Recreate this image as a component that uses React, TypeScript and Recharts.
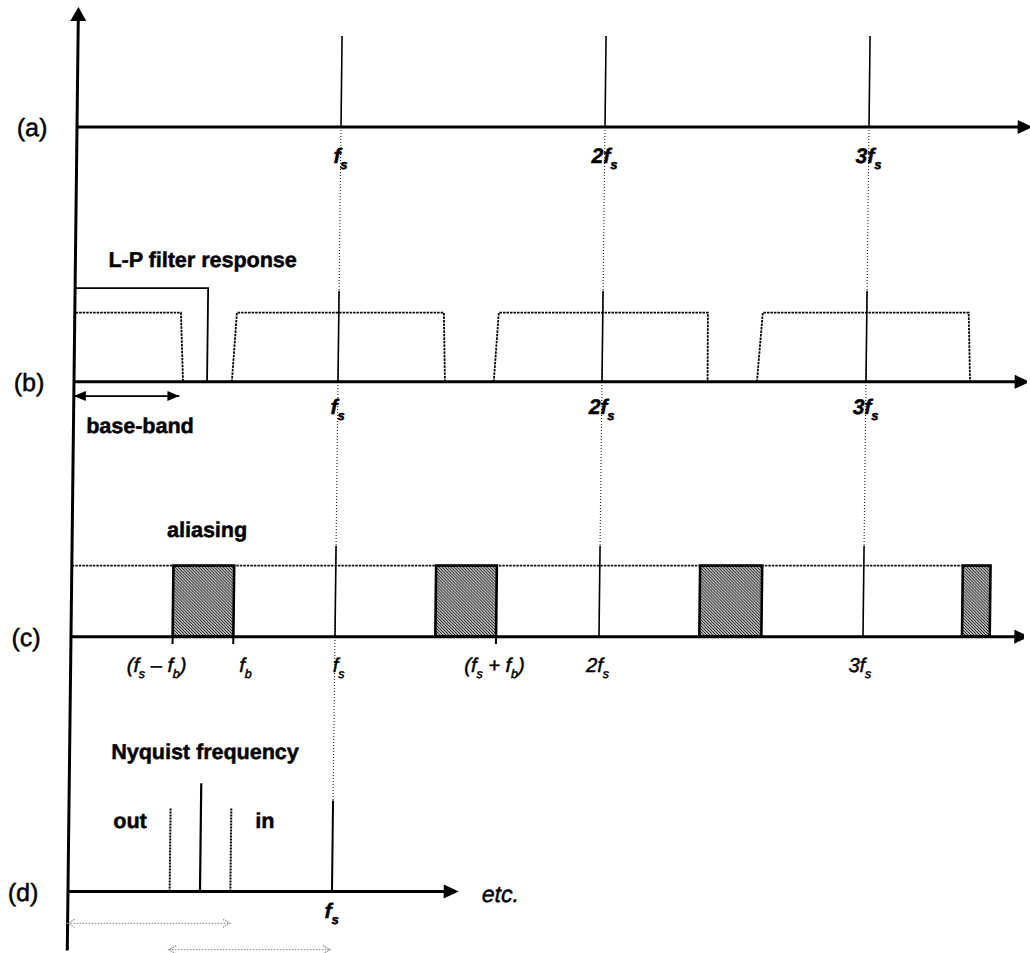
import { ComposedChart, Line, XAxis, YAxis, ReferenceArea, ReferenceDot } from "recharts"

const W = 1030
const H = 953
const FONT = "'Liberation Sans', Arial, Helvetica, sans-serif"

// x: frequency in multiples of fs, y: height in pulse units; panels stacked downwards
const xDomain: [number, number] = [-0.25, 3.6]
const yDomain: [number, number] = [-9.05, 1.32]

const panelNames = ["(a)", "(b)", "(c)", "(d)"]
const panelBase = [0, -2.8, -5.6, -8.4]
const panelArrowTip = [3.62, 3.62, 3.63, 1.48]
const panelLabelDrop = [-0.4, -0.35, -0.39, -0.29]

// sampling pulses at multiples of fs
const harmonics = [1, 2, 3]
const harmonicNames = ["f_s", "2f_s", "3f_s"]
const pulseHeight = 1

// (b) low-pass response and spectrum images: [foot left, top left, top right, foot right]
const filterCutoff = 0.504
const filterLevel = 1.03
const imageLevel = 0.76
const spectrumImages = [
  [0, 0, 0.402, 0.413],
  [0.598, 0.614, 1.398, 1.405],
  [1.59, 1.606, 2.398, 2.4],
  [2.587, 2.606, 3.386, 3.394],
]
const basebandArrow = [0, 0.4]
const basebandArrowLevel = -0.156

// (c) images overlapping when fs is too low
const aliasLevel = 0.78
const aliasEnd = 3.48
const aliasOverlaps = [
  [0.385, 0.615],
  [1.38, 1.61],
  [2.38, 2.615],
  [3.375, 3.48],
]
const aliasTicks = [0.385, 0.615, 1.61]
const aliasNames = ["(f_s – f_b)", "f_b", "f_s", "(f_s + f_b)", "2f_s", "3f_s"]
const aliasNameAt = [0.326, 0.663, 1.015, 1.606, 1.996, 2.99]

// (d) Nyquist frequency at fs/2
const nyquist = 0.5
const nyquistHeight = 1.19
const bandEdges = [0.385, 0.615]
const bandEdgeHeight = 0.92
const spans = [
  [0, 0.615],
  [0.385, 0.995],
]
const spanLevels = [-0.35, -0.64]

// captions, heights relative to their panel baseline
const notes = ["L-P filter response", "base-band", "aliasing", "Nyquist frequency", "out", "in"]
const noteX = [0.482, 0.252, 0.511, 0.513, 0.232, 0.743]
const noteY = [1.26, -0.56, 1.095, 1.455, 0.7, 0.7]
const notePanel = [1, 1, 2, 3, 3, 3]

const pts = (list: number[][]) => list.map(([f, v]) => ({ f, v }))

type Style = { stroke?: string; width?: number; dash?: string }

function trace(key: string, list: number[][], s: Style = {}) {
  return (
    <Line
      key={key}
      data={pts(list)}
      dataKey="v"
      type="linear"
      stroke={s.stroke ?? "#000"}
      strokeWidth={s.width ?? 1.6}
      strokeDasharray={s.dash}
      strokeLinecap="butt"
      dot={false}
      activeDot={false}
      legendType="none"
      isAnimationActive={false}
    />
  )
}

// heavy ink on all lettering
const ink = { fill: "#000", stroke: "#000", strokeWidth: 0.5, paintOrder: "stroke" as const }

function mathText(text: string, x: number, y: number, size: number, bold: boolean) {
  const parts = text.split(/_(.)/)
  const drop = size * 0.28
  return (
    <text
      x={x}
      y={y}
      textAnchor="middle"
      fontFamily={FONT}
      fontSize={size}
      fontStyle="italic"
      fontWeight={bold ? 700 : 400}
      {...ink}
      style={{ whiteSpace: "pre" }}
    >
      {parts.map((p, i) =>
        i % 2 === 1 ? (
          <tspan key={i} fontSize={size * 0.62} dy={drop}>
            {p}
          </tspan>
        ) : (
          <tspan key={i} dy={i === 0 ? 0 : -drop}>
            {p}
          </tspan>
        )
      )}
    </text>
  )
}

function marker(key: string, f: number, v: number, draw: (cx: number, cy: number) => JSX.Element) {
  return (
    <ReferenceDot
      key={key}
      x={f}
      y={v}
      r={0}
      ifOverflow="visible"
      isFront
      shape={(p: any) => draw(p.cx, p.cy)}
    />
  )
}

// filled arrow head with its tip at (cx, cy)
const head = (dir: "right" | "left" | "up", len: number, half: number, fill = "#000") => (cx: number, cy: number) => {
  const d =
    dir === "right"
      ? `${cx},${cy} ${cx - len},${cy - half} ${cx - len},${cy + half}`
      : dir === "left"
      ? `${cx},${cy} ${cx + len},${cy - half} ${cx + len},${cy + half}`
      : `${cx},${cy} ${cx - half},${cy + len} ${cx + half},${cy + len}`
  return <polygon points={d} fill={fill} />
}

// small open head for the dotted range arrows
const openHead = (dir: "right" | "left") => (cx: number, cy: number) => {
  const s = dir === "right" ? -1 : 1
  return (
    <polyline
      points={`${cx + s * 7},${cy - 4} ${cx},${cy} ${cx + s * 7},${cy + 4}`}
      fill="none"
      stroke="#999"
      strokeWidth={1.4}
      strokeDasharray="1.5 1"
    />
  )
}

export default function App() {
  const [a, b, c, d] = panelBase

  return (
    <div style={{ position: "absolute", left: 0, top: 0, width: W, height: H, background: "#fff" }}>
      <svg width={0} height={0} style={{ position: "absolute" }}>
        <defs>
          <pattern id="hatch" patternUnits="userSpaceOnUse" width={3} height={3}>
            <path d="M-1,-1 L4,4 M-1,2 L1,4 M2,-1 L4,1" stroke="#000" strokeWidth={1} />
          </pattern>
        </defs>
      </svg>
      {/* the drawing leans a little, lower panels sit slightly further left */}
      <div style={{ transform: "skewX(-0.676deg)", transformOrigin: "0px 127px" }}>
        <ComposedChart
          width={W}
          height={H}
          margin={{ top: 6.9, right: 2.6, bottom: 2.4, left: 11 }}
          style={{ overflow: "visible" }}
        >
          <XAxis type="number" dataKey="f" domain={xDomain} hide />
          <YAxis type="number" domain={yDomain} hide />

          {/* hatched overlap regions in (c) */}
          {aliasOverlaps.map(([x1, x2], i) => (
            <ReferenceArea
              key={`ov${i}`}
              x1={x1}
              x2={x2}
              y1={c}
              y2={c + aliasLevel}
              fill="url(#hatch)"
              fillOpacity={1}
              stroke="#000"
              strokeWidth={2.6}
              ifOverflow="visible"
            />
          ))}

          {/* dotted guides through the multiples of fs */}
          {trace("gfs", [[1, a], [1, d + pulseHeight]], { stroke: "#222", width: 1.1, dash: "1 2" })}
          {trace("g2fs", [[2, a], [2, c + pulseHeight]], { stroke: "#222", width: 1.1, dash: "1 2" })}
          {trace("g3fs", [[3, a], [3, c + pulseHeight]], { stroke: "#222", width: 1.1, dash: "1 2" })}

          {/* pulses in (a), (b), (c) */}
          {[a, b, c].flatMap((base, p) =>
            harmonics.map((h) => trace(`p${p}${h}`, [[h, base], [h, base + pulseHeight]], { width: 1.6 }))
          )}

          {/* (b) filter response and sampled spectra */}
          {trace("filter", [[0, b + filterLevel], [filterCutoff, b + filterLevel], [filterCutoff, b]], { width: 1.8 })}
          {spectrumImages.map(([f0, f1, f2, f3], i) =>
            trace(
              `img${i}`,
              [[f0, b], [f1, b + imageLevel], [f2, b + imageLevel], [f3, b]],
              { stroke: "#000", width: 1.8, dash: "2.5 1" }
            )
          )}
          {trace("bbArrow", [[basebandArrow[0], b + basebandArrowLevel], [basebandArrow[1], b + basebandArrowLevel]], { width: 1.8 })}

          {/* (c) top of overlapping images and ticks */}
          {trace("aliasTop", [[0, c + aliasLevel], [aliasEnd, c + aliasLevel]], { stroke: "#111", width: 1.7, dash: "2.5 1" })}
          {aliasTicks.map((t, i) => trace(`tk${i}`, [[t, c], [t, c - 0.08]], { width: 2 }))}

          {/* (d) Nyquist frequency, band edges and fs */}
          {trace("nyq", [[nyquist, d], [nyquist, d + nyquistHeight]], { width: 2.2 })}
          {bandEdges.map((e, i) => trace(`edge${i}`, [[e, d], [e, d + bandEdgeHeight]], { stroke: "#000", width: 2, dash: "2 1" }))}
          {trace("dfs", [[1, d], [1, d + pulseHeight]], { width: 2 })}
          {spans.map(([s0, s1], i) =>
            trace(`span${i}`, [[s0, d + spanLevels[i]], [s1, d + spanLevels[i]]], { stroke: "#999", width: 1.3, dash: "1.5 1.5" })
          )}

          {/* axes */}
          {trace("yAxis", [[0, yDomain[0]], [0, 1.2]], { width: 3 })}
          {panelBase.map((base, i) => trace(`ax${i}`, [[0, base], [panelArrowTip[i] - 0.04, base]], { width: 3 }))}

          {marker("yHead", 0, 1.32, head("up", 14, 8))}
          {panelBase.map((base, i) => marker(`axHead${i}`, panelArrowTip[i], base, head("right", 15, 7)))}
          {marker("bbL", basebandArrow[0], b + basebandArrowLevel, head("left", 12, 5))}
          {marker("bbR", basebandArrow[1], b + basebandArrowLevel, head("right", 12, 5))}
          {spans.map(([s0, s1], i) => [
            marker(`spL${i}`, s0, d + spanLevels[i], openHead("left")),
            marker(`spR${i}`, s1, d + spanLevels[i], openHead("right")),
          ])}

          {/* panel letters */}
          {panelNames.map((n, i) =>
            marker(`pn${i}`, -0.17, panelBase[i] - 0.1, (cx, cy) => (
              <text x={cx} y={cy} textAnchor="middle" fontFamily={FONT} fontSize={25} {...ink}>
                {n}
              </text>
            ))
          )}

          {/* frequency labels */}
          {[a, b].flatMap((base, p) =>
            harmonics.map((h, i) =>
              marker(`hl${p}${i}`, h, base + panelLabelDrop[p], (cx, cy) => mathText(harmonicNames[i], cx, cy, 21, true))
            )
          )}
          {aliasNames.map((n, i) =>
            marker(`al${i}`, aliasNameAt[i], c + panelLabelDrop[2], (cx, cy) => mathText(n, cx, cy, 20, false))
          )}
          {marker("dl", 1, d + panelLabelDrop[3], (cx, cy) => mathText("f_s", cx, cy, 21, true))}
          {marker("etc", 1.568, d - 0.116, (cx, cy) => (
            <text x={cx} y={cy} fontFamily={FONT} fontSize={23} fontStyle="italic" {...ink}>
              etc.
            </text>
          ))}

          {/* captions */}
          {notes.map((n, i) =>
            marker(`note${i}`, noteX[i], panelBase[notePanel[i]] + noteY[i], (cx, cy) => (
              <text x={cx} y={cy} textAnchor="middle" fontFamily={FONT} fontSize={21.5} fontWeight={700} {...ink}>
                {n}
              </text>
            ))
          )}
        </ComposedChart>
      </div>
    </div>
  )
}
